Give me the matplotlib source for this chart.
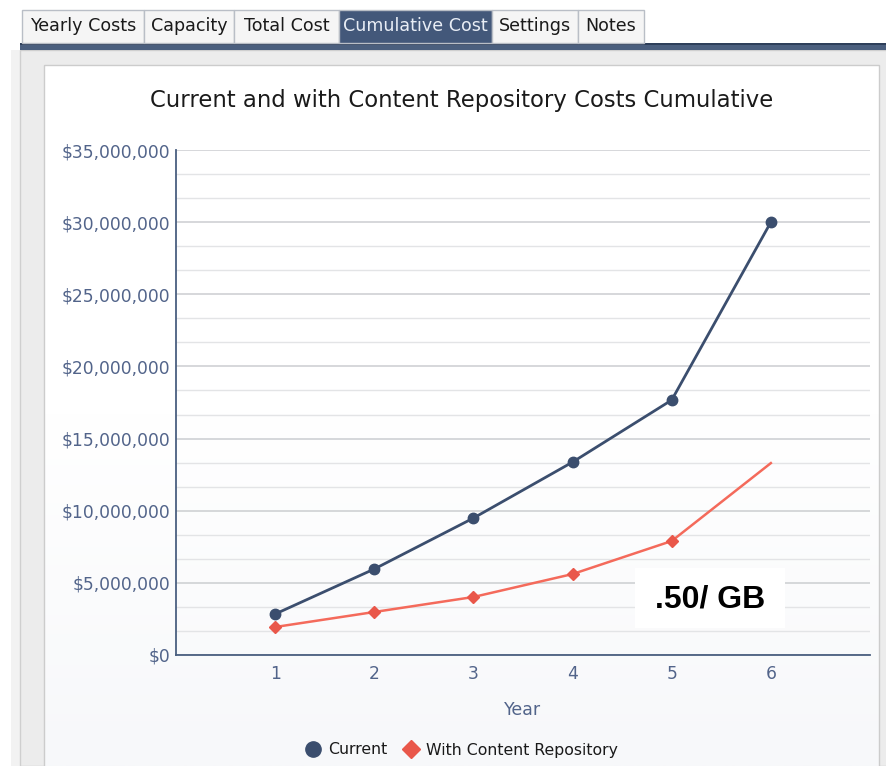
import numpy as np
import matplotlib
matplotlib.use("Agg")
import matplotlib.pyplot as plt
from matplotlib.patches import Rectangle
from matplotlib.ticker import FuncFormatter, MultipleLocator
from matplotlib.lines import Line2D

# data
years = [1, 2, 3, 4, 5, 6]
current = [2.84e6, 5.96e6, 9.49e6, 13.37e6, 17.67e6, 30.0e6]
with_repo = [1.94e6, 2.98e6, 4.02e6, 5.61e6, 7.9e6, 13.3e6]
tabs = ["Yearly Costs", "Capacity", "Total Cost", "Cumulative Cost", "Settings", "Notes"]
tab_edges = [22, 144, 234, 339, 492, 578, 644]
active_tab = "Cumulative Cost"

W, H = 887, 766
fig = plt.figure(figsize=(W / 100, H / 100), dpi=100)
fig.patch.set_facecolor("white")

# page chrome in pixel coords
bg = fig.add_axes([0, 0, 1, 1])
bg.set_xlim(0, W)
bg.set_ylim(H, 0)
bg.axis("off")

# outer panel and chart box
bg.add_patch(Rectangle((11, 50), W - 11, H - 50, facecolor="#f2f2f2", edgecolor="none"))
bg.add_patch(Rectangle((20, 50), W - 20, H - 50, facecolor="#ececec", edgecolor="#cfcfcf", lw=1))
grad = np.linspace(0, 1, 256).reshape(-1, 1)
cmap = matplotlib.colors.LinearSegmentedColormap.from_list("g", ["#ffffff", "#ffffff", "#f7f8fa"])
bg.imshow(grad, extent=(44, W - 8, H, 65), cmap=cmap, aspect="auto", zorder=1)
bg.add_patch(Rectangle((44, 65), W - 52, H - 60, facecolor="none", edgecolor="#cccccc", lw=1, zorder=2))

# tab bar
bg.add_patch(Rectangle((20, 43), W - 20, 7, facecolor="#4b5f7e", edgecolor="none", zorder=3))
bg.add_patch(Rectangle((20, 43), W - 20, 2, facecolor="#2e3f5a", edgecolor="none", zorder=3))
for i, name in enumerate(tabs):
    x0, x1 = tab_edges[i], tab_edges[i + 1]
    active = name == active_tab
    bg.add_patch(Rectangle((x0, 10), x1 - x0, 33,
                           facecolor="#43587a" if active else "#f5f5f5",
                           edgecolor="#b9bec6", lw=1, zorder=3))
    bg.text((x0 + x1) / 2, 26, name, ha="center", va="center", fontsize=12.6,
            color="#e8edf5" if active else "#1a1a1a", zorder=4)

bg.text(462, 100, "Current and with Content Repository Costs Cumulative",
        ha="center", va="center", fontsize=16.4, color="#1a1a1a", zorder=4)

# chart
ax = fig.add_axes([176 / W, (H - 655) / H, (870 - 176) / W, (655 - 150) / H])
ax.patch.set_alpha(0)
ax.set_xlim(0, 7)
ax.set_ylim(0, 35e6)

axis_col = "#4a5f80"
tick_col = "#52648a"
ax.yaxis.set_major_locator(MultipleLocator(5e6))
ax.yaxis.set_minor_locator(MultipleLocator(5e6 / 3))
ax.yaxis.set_major_formatter(FuncFormatter(lambda v, p: f"${v:,.0f}"))
ax.set_xticks(years)
ax.grid(True, which="major", axis="y", color="#cfd1d4", lw=1.2)
ax.grid(True, which="minor", axis="y", color="#e3e4e6", lw=1)
ax.tick_params(axis="both", which="both", length=0, colors=tick_col, labelsize=12.3)
ax.tick_params(axis="y", pad=4)
ax.tick_params(axis="x", pad=7)
for s in ["top", "right"]:
    ax.spines[s].set_visible(False)
for s in ["left", "bottom"]:
    ax.spines[s].set_color(axis_col)
    ax.spines[s].set_linewidth(1.3)
ax.set_axisbelow(True)

ax.plot(years, current, color="#3b4e6e", lw=2, marker="o", ms=7.5,
        markerfacecolor="#3b4e6e", markeredgecolor="#3b4e6e", zorder=5)
ax.plot(years, with_repo, color="#f46a5b", lw=1.8, marker="D", ms=6,
        markerfacecolor="#e9574a", markeredgecolor="#e9574a", markevery=[0, 1, 2, 3, 4], zorder=5)

ax.set_xlabel("Year", fontsize=12.5, color=tick_col, labelpad=13)

# overlay note box
bg2 = fig.add_axes([0, 0, 1, 1])
bg2.set_xlim(0, W)
bg2.set_ylim(H, 0)
bg2.axis("off")
bg2.add_patch(Rectangle((635, 568), 150, 60, facecolor="white", edgecolor="none"))
bg2.text(710, 599, ".50/ GB", ha="center", va="center", fontsize=23,
         fontweight="bold", family="Liberation Sans", color="black")

# legend
handles = [
    Line2D([], [], ls="none", marker="o", ms=11, color="#3b4e6e"),
    Line2D([], [], ls="none", marker="D", ms=9, color="#e9574a"),
]
fig.legend(handles, ["Current", "With Content Repository"], loc="center",
           bbox_to_anchor=(461 / W, 1 - 750 / H), ncol=2, frameon=False,
           fontsize=11.3, handlelength=1.2, handletextpad=0.35, columnspacing=0.93,
           labelcolor="#1a1a1a")

fig.savefig("out.png", dpi=100)
